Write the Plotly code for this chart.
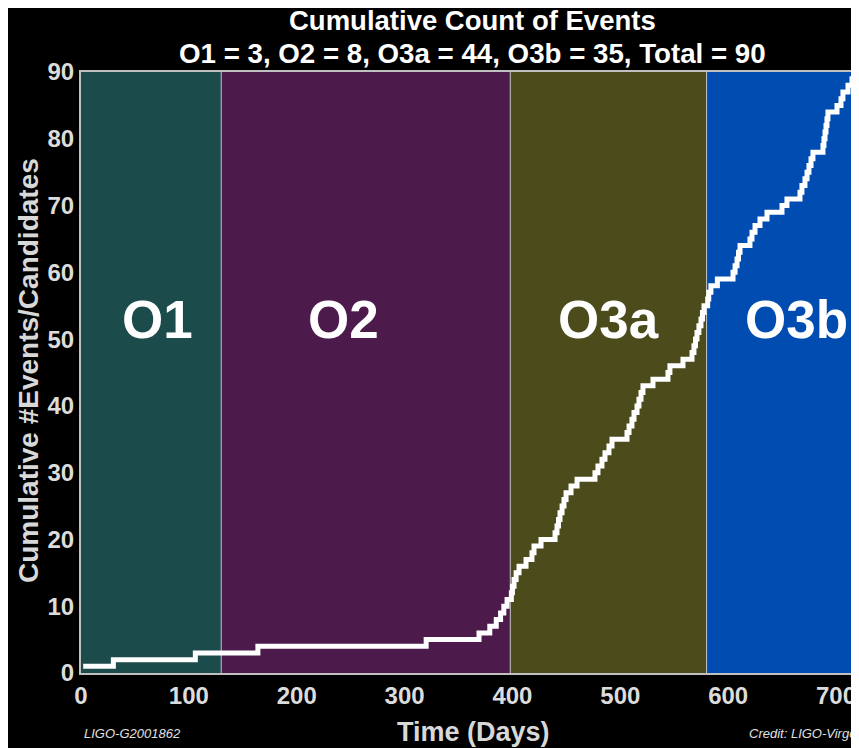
import numpy as np
import plotly.graph_objects as go

# ---- data ----
run_names = ["O1", "O2", "O3a", "O3b"]
run_bounds = [0, 130, 398, 580, 728]          # run start/end, days
run_colors = ["#1b4b4b", "#4c1b4c", "#4c4b1b", "#004cb0"]
run_label_x = [70.5, 243, 489.5, 663]           # label centre, days
run_label_y = 53

o1_days = [2, 30, 106]
o2_days = [164, 320, 369, 379, 385, 389, 392, 395]
o3a_days = [399.0, 400.0, 401.5, 403.4, 406.1, 412.6, 418.1, 420.0, 426.5,
            439.5, 441.3, 442.7, 444.1, 446.0, 447.8, 449.7, 454.3, 459.9,
            476.5, 479.3, 483.0, 485.8, 489.5, 492.3, 506.2, 508.1, 510.8,
            512.7, 515.5, 517.3, 519.2, 521.0, 530.3, 544.2, 546.0, 558.1,
            566.5, 568.3, 569.7, 571.1, 572.9, 574.8, 576.2, 577.6]
o3b_days = [581, 582, 584, 590, 604.5, 606.4, 608.2, 609.6, 611, 620.2, 622.1,
            624.9, 629.5, 636, 649.9, 654.5, 666.6, 668.4, 671.2, 673.1,
            674.9, 676.8, 678.6, 687.9, 688.8, 689.8, 690.7, 691.6, 692.5,
            700.9, 704.6, 706.4, 711.1, 714.8, 717.6]

x_ticks = [0, 100, 200, 300, 400, 500, 600, 700]
y_ticks = [0, 10, 20, 30, 40, 50, 60, 70, 80, 90]
x_range = [0, 721.3]
y_range = [0, 90]

counts = [len(o1_days), len(o2_days), len(o3a_days), len(o3b_days)]
total = sum(counts)

days = np.array(o1_days + o2_days + o3a_days + o3b_days, dtype=float)
cum = np.arange(1, len(days) + 1)
xs = list(days) + [run_bounds[-1]]
ys = list(cum) + [cum[-1]]

fig = go.Figure()
fig.add_trace(go.Scatter(x=xs, y=ys, mode="lines", line=dict(color="white", width=5, shape="hv"),
                         hoverinfo="skip", showlegend=False))

shapes = []
for i in range(4):
    shapes.append(dict(type="rect", xref="x", yref="y", x0=run_bounds[i], x1=run_bounds[i + 1],
                       y0=y_range[0], y1=y_range[1], fillcolor=run_colors[i], line=dict(width=0),
                       layer="below"))
for b in run_bounds[1:4]:
    shapes.append(dict(type="line", xref="x", yref="y", x0=b, x1=b, y0=y_range[0], y1=y_range[1],
                       line=dict(color="#c8c8c8", width=1), layer="below"))

FONT = "Liberation Sans, Arial, Helvetica, sans-serif"
ann = []
for name, lx in zip(run_names, run_label_x):
    ann.append(dict(x=lx, y=run_label_y, xref="x", yref="y", text="<b>%s</b>" % name, showarrow=False,
                    font=dict(family=FONT, size=53, color="white")))

# paper coords from reference pixels (plot spans y 72..673 px, x 81..859 px)
def py(p):
    return (673 - p) / 601.0

def px(p):
    return (p - 81) / 778.0

ann.append(dict(x=px(472), y=py(20), xref="paper", yref="paper", text="<b>Cumulative Count of Events</b>",
                showarrow=False, yanchor="middle", font=dict(family=FONT, size=27.5, color="white")))
sub = "O1 = %d, O2 = %d, O3a = %d, O3b = %d, Total = %d" % (counts[0], counts[1], counts[2], counts[3], total)
ann.append(dict(x=px(472), y=py(53), xref="paper", yref="paper", text="<b>%s</b>" % sub,
                showarrow=False, yanchor="middle", font=dict(family=FONT, size=27.7, color="white")))
ann.append(dict(x=px(473), y=py(732), xref="paper", yref="paper", text="<b>Time (Days)</b>",
                showarrow=False, yanchor="middle", font=dict(family=FONT, size=27, color="#d8d8d8")))
ann.append(dict(x=px(28), y=py(371), xref="paper", yref="paper", text="<b>Cumulative #Events/Candidates</b>",
                showarrow=False, textangle=-90, xanchor="center", yanchor="middle",
                font=dict(family=FONT, size=28, color="#d8d8d8")))
ann.append(dict(x=px(82), y=py(733), xref="paper", yref="paper", text="<i>LIGO-G2001862</i>",
                showarrow=False, xanchor="left", yanchor="middle", font=dict(family=FONT, size=13, color="#e0e0e0")))
ann.append(dict(x=px(747), y=py(733), xref="paper", yref="paper", text="<i>Credit: LIGO-Virgo</i>",
                showarrow=False, xanchor="left", yanchor="middle", font=dict(family=FONT, size=13, color="#e0e0e0")))

# page body has an 8px margin, so the figure is drawn 8px right/down
fig.update_layout(
    width=851, height=740,
    margin=dict(l=73, r=0, t=64, b=75),
    paper_bgcolor="black", plot_bgcolor="black",
    shapes=shapes, annotations=ann,
    xaxis=dict(range=x_range, tickvals=x_ticks, showgrid=False, zeroline=False, showline=True,
               linecolor="#c0c0c0", linewidth=2, mirror=True, ticks="",
               tickfont=dict(family=FONT, size=24, color="#dcdcdc", weight="bold")),
    yaxis=dict(range=y_range, tickvals=y_ticks, showgrid=False, zeroline=False, showline=True,
               linecolor="#c0c0c0", linewidth=2, ticks="",
               tickfont=dict(family=FONT, size=24, color="#dcdcdc", weight="bold")),
)

fig.write_html("out.html")
